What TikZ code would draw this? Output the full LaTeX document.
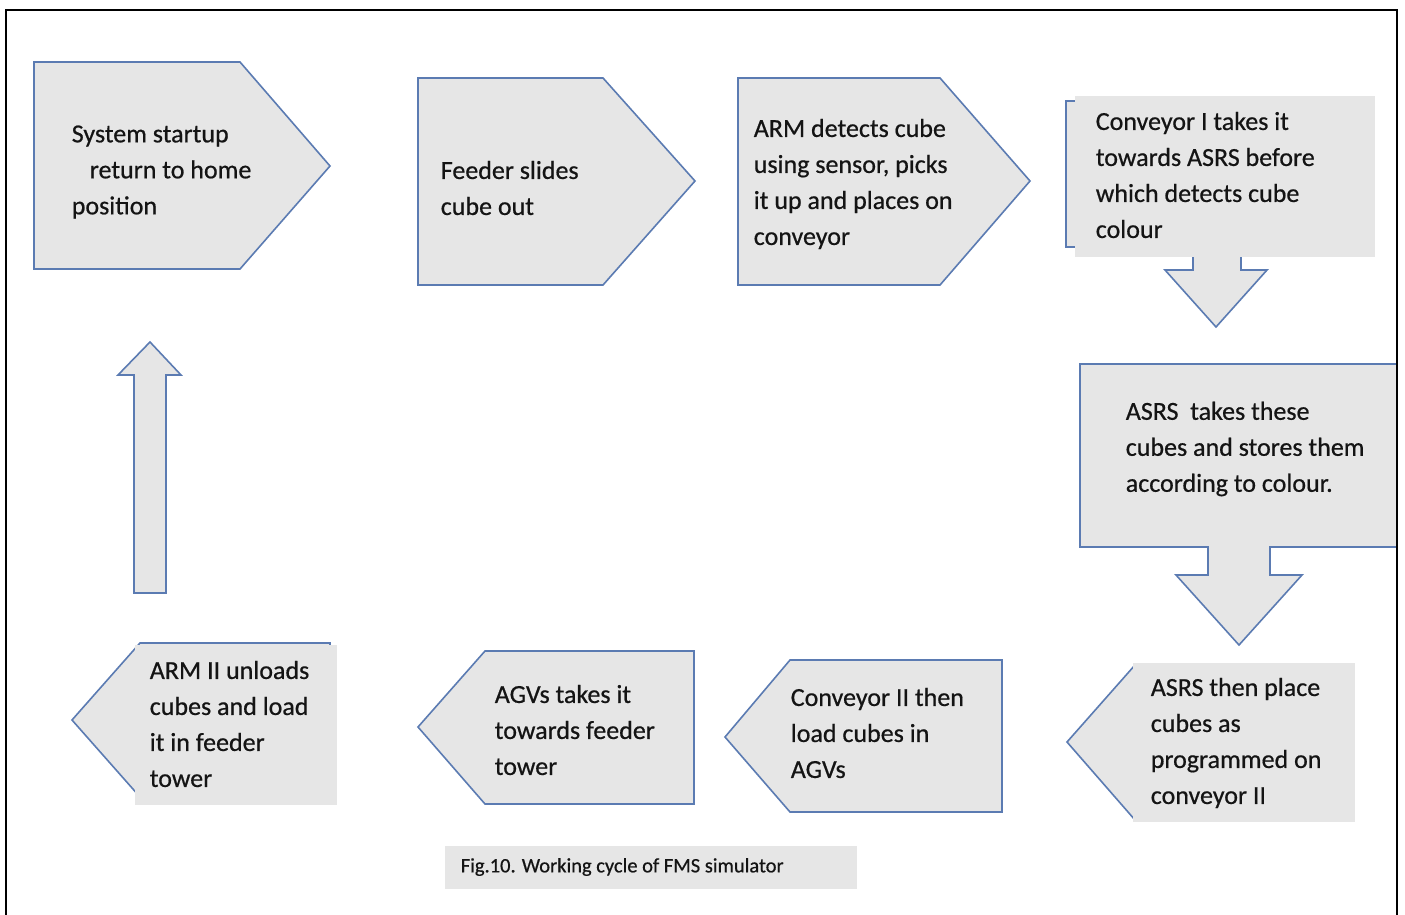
\documentclass[tikz,border=0pt]{standalone}
\usepackage{fontspec}
\setmainfont{Carlito}
\newfontfamily\boxfont{Carlito}[FakeBold=0.6]
\usetikzlibrary{calc}
\definecolor{boxfill}{HTML}{E6E6E6}
\definecolor{boxline}{HTML}{5B7BB2}
\definecolor{inktext}{HTML}{141414}

\begin{document}
\begin{tikzpicture}[x=1pt, y=-1pt, line width=1.6pt,
	blk/.style={draw=boxline, fill=boxfill},
	pad/.style={fill=boxfill, draw=none},
	txt/.style={anchor=west, inner sep=0pt, align=left, text=inktext, font=\boxfont\fontsize{26}{36}\selectfont}]
\useasboundingbox (0,0) rectangle (1405,915);

% top row
\draw [blk] (34,62)--(240,62)--(330,166)--(240,269)--(34,269)--cycle;
\node[txt] (startup) at (71,172) {System startup\\\hspace*{18pt}return to home\\position};

\draw [blk] (418,78)--(603,78)--(695,181)--(603,285)--(418,285)--cycle;
\node[txt] (feeder) at (440,188) {Feeder slides\\cube out};

\draw [blk] (738,78)--(940,78)--(1030,181)--(940,285)--(738,285)--cycle;
\node[txt] (arm) at (753,184) {ARM detects cube\\using sensor, picks\\it up and places on\\conveyor};

\draw [blk] (1066,101)--(1370,101)--(1370,247)--(1241,247)--(1241,270)--(1267,270)--(1216,327)--(1165,270)--(1193,270)--(1193,247)--(1066,247)--cycle;
\fill [pad] (1075,96) rectangle (1375,257);
\node[txt] (convone) at (1095,175) {Conveyor I takes it\\towards ASRS before\\which detects cube\\colour};

% right column
\draw [blk] (1080,364)--(1397,364)--(1397,547)--(1270,547)--(1270,575)--(1302,575)--(1239,645)--(1176,575)--(1208,575)--(1208,547)--(1080,547)--cycle;
\node[txt] (asrs) at (1125,449) {ASRS\ \ takes these\\cubes and stores them\\according to colour.};

% bottom row
\draw [blk] (1067,742)--(1135,665)--(1350,665)--(1350,820)--(1135,820)--cycle;
\fill [pad] (1133,663) rectangle (1355,822);
\node[txt] (place) at (1150,743) {ASRS then place\\cubes as\\programmed on\\conveyor II};

\draw [blk] (725,737)--(790,660)--(1002,660)--(1002,812)--(790,812)--cycle;
\node[txt] (convtwo) at (790,733) {Conveyor II then\\load cubes in\\AGVs};

\draw [blk] (418,727)--(485,651)--(694,651)--(694,804)--(485,804)--cycle;
\node[txt] (agv) at (494,730) {AGVs takes it\\towards feeder\\tower};

\draw [blk] (72,720)--(140,643)--(330,643)--(330,797)--(140,797)--cycle;
\fill [pad] (135,645) rectangle (337,805);
\node[txt] (armtwo) at (149,724) {ARM II unloads\\cubes and load\\it in feeder\\tower};

% back up
\draw [blk] (134,593)--(134,375)--(118,375)--(150,342)--(181,375)--(166,375)--(166,593)--cycle;

% caption
\fill [pad] (445,846) rectangle (857,889);
\node[txt, font=\boxfont\fontsize{20.5}{24}\selectfont] (caption) at (460,867) {Fig.10. Working cycle of FMS simulator};

% frame
\draw [black, line width=2pt] (6,925)--(6,10)--(1397,10)--(1397,925);
\end{tikzpicture}
\end{document}
